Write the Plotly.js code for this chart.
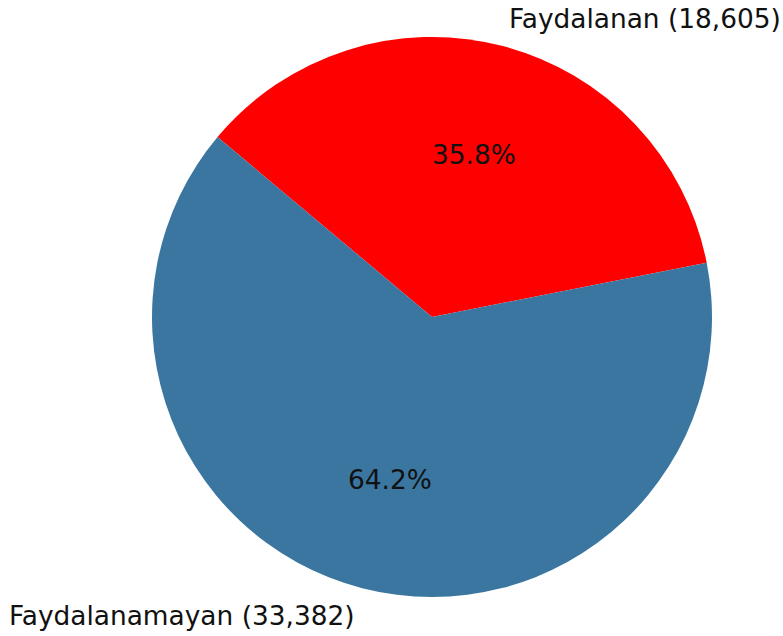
<!DOCTYPE html>
<html>
<head>
<meta charset="utf-8">
<script src="https://cdn.plot.ly/plotly-3.0.1.min.js"></script>
<style>html,body{margin:0;padding:0;background:#fff;}#chart{width:783px;height:636px;}</style>
</head>
<body>
<div id="chart"></div>
<script>
const categories = ["Faydalanamayan", "Faydalanan"];
const counts = [33382, 18605];
const sliceColors = ["#3b76a0", "#ff0000"];
const startAngle = 140; // degrees, counterclockwise from 3 o'clock

const total = counts.reduce((a, b) => a + b, 0);
const annotations = [];
let acc = startAngle;
const fontSpec = {family: "DejaVu Sans", size: 26.4, color: "#111111"};
counts.forEach((v, i) => {
  const frac = v / total;
  const mid = (acc + frac * 360 / 2) * Math.PI / 180;
  acc += frac * 360;
  const cx = Math.cos(mid), cy = Math.sin(mid);
  annotations.push({
    xref: "paper", yref: "paper",
    x: 0.5 + 0.5 * 1.1 * cx, y: 0.5 + 0.5 * 1.1 * cy,
    xanchor: cx > 0 ? "left" : "right", yanchor: "middle",
    xshift: cx > 0 ? -2 : 2,
    text: categories[i] + " (" + v.toLocaleString("en-US") + ")",
    showarrow: false, font: fontSpec
  });
  annotations.push({
    xref: "paper", yref: "paper",
    x: 0.5 + 0.5 * 0.6 * cx, y: 0.5 + 0.5 * 0.6 * cy,
    xanchor: "center", yanchor: "middle",
    text: (frac * 100).toFixed(1) + "%",
    showarrow: false, font: fontSpec
  });
});

// Counterclockwise from startAngle == clockwise from startAngle with the order reversed
const data = [{
  type: "pie",
  labels: categories.slice().reverse(),
  values: counts.slice().reverse(),
  marker: {colors: sliceColors.slice().reverse(), line: {width: 0}},
  sort: false,
  direction: "clockwise",
  rotation: 90 - startAngle,
  textinfo: "none",
  hoverinfo: "none",
  domain: {x: [0, 1], y: [0, 1]}
}];

const layout = {
  width: 783, height: 636,
  margin: {l: 152, r: 71, t: 37, b: 39, pad: 0},
  showlegend: false,
  paper_bgcolor: "#ffffff",
  plot_bgcolor: "#ffffff",
  font: {family: "DejaVu Sans"},
  annotations: annotations
};

Plotly.newPlot("chart", data, layout, {displayModeBar: false, staticPlot: true});
</script>
</body>
</html>
